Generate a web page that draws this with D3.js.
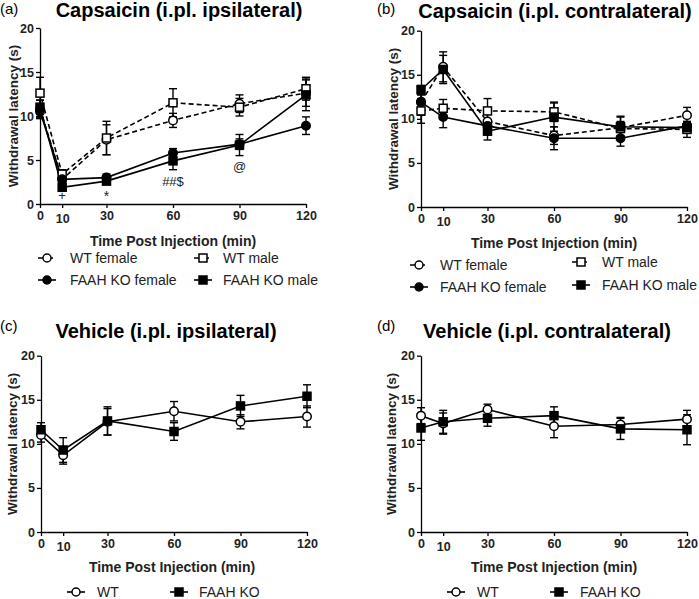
<!DOCTYPE html>
<html><head><meta charset="utf-8">
<script src="https://cdn.jsdelivr.net/npm/d3@7"></script>
<style>
html,body{margin:0;padding:0;background:#fff;}
svg{display:block;font-family:"Liberation Sans",Arial,Helvetica,sans-serif;}
</style></head>
<body>
<svg id="chart" width="699" height="599"></svg>
<script>
// ---------- DATA ----------
const times = [0, 10, 30, 60, 90, 120];
const xTickLabels = ["0", "10", "30", "60", "90", "120"];
const yTicks = [0, 5, 10, 15, 20];

const panelTitles = ["Capsaicin (i.pl. ipsilateral)", "Capsaicin (i.pl. contralateral)",
                     "Vehicle (i.pl. ipsilateral)", "Vehicle (i.pl. contralateral)"];
const panelLetters = ["(a)", "(b)", "(c)", "(d)"];
const xAxisTitle = "Time Post Injection (min)";
const yAxisTitle = "Withdrawal latency (s)";

const seriesNames4 = ["WT female", "WT male", "FAAH KO female", "FAAH KO male"];
const seriesNames2 = ["WT", "FAAH KO"];

// Capsaicin ipsilateral
const ipsiWTFemale = [10.8, 2.8, 7.3, 9.5, 11.4, 12.6];
const ipsiWTFemaleErr = [1.0, 0.5, 1.7, 0.8, 1.0, 1.5];
const ipsiWTMale = [12.6, 3.4, 7.5, 11.5, 11.0, 13.1];
const ipsiWTMaleErr = [1.8, 0.5, 1.9, 1.6, 1.0, 1.3];
const ipsiKOFemale = [10.5, 2.8, 3.0, 5.8, 6.8, 8.9];
const ipsiKOFemaleErr = [0.8, 0.3, 0.4, 0.5, 0.6, 1.0];
const ipsiKOMale = [11.0, 1.9, 2.6, 4.9, 6.7, 12.4];
const ipsiKOMaleErr = [0.8, 0.3, 0.3, 1.0, 1.2, 1.8];

// Capsaicin contralateral
const contraWTFemale = [11.9, 15.9, 9.7, 8.1, 9.0, 10.4];
const contraWTFemaleErr = [1.5, 1.7, 1.2, 1.0, 1.2, 0.9];
const contraWTMale = [10.9, 11.2, 10.9, 10.8, 8.9, 8.8];
const contraWTMaleErr = [1.4, 1.0, 1.4, 1.1, 0.8, 0.9];
const contraKOFemale = [11.9, 10.2, 9.2, 7.8, 7.8, 9.2];
const contraKOFemaleErr = [0.8, 1.2, 0.7, 1.3, 0.9, 0.5];
const contraKOMale = [13.3, 15.6, 8.6, 10.2, 9.1, 9.0];
const contraKOMaleErr = [0.5, 1.6, 1.0, 1.6, 1.2, 0.6];

// Vehicle ipsilateral
const vehIpsiWT = [11.0, 8.7, 12.5, 13.7, 12.5, 13.1];
const vehIpsiWTErr = [0.8, 1.0, 1.5, 1.1, 0.8, 1.2];
const vehIpsiKO = [11.6, 9.3, 12.6, 11.4, 14.3, 15.4];
const vehIpsiKOErr = [0.8, 1.4, 1.6, 1.0, 1.2, 1.3];

// Vehicle contralateral
const vehContraWT = [13.2, 12.3, 13.9, 12.0, 12.2, 12.8];
const vehContraWTErr = [0.9, 1.2, 0.6, 1.3, 0.8, 1.0];
const vehContraKO = [11.8, 12.5, 12.9, 13.2, 11.7, 11.6];
const vehContraKOErr = [1.4, 1.3, 0.9, 1.0, 1.2, 1.7];

// significance annotations in panel (a): time, value (baseline), text
const annotTimes = [10, 30, 60, 90];
const annotValues = [0.45, 0.3, 2.0, 3.75];
const annotTexts = ["+", "*", "##$", "@"];

// ---------- STYLES ----------
const styles = {
  wtF: {marker: "circle", fill: "#fff", dash: "5,3"},
  wtM: {marker: "square", fill: "#fff", dash: "5,3"},
  koF: {marker: "circle", fill: "#000", dash: null},
  koM: {marker: "square", fill: "#000", dash: null},
};

const panels = [
  {letter: 0, title: 0, x0: 40, x1: 306, yTop: 28, yBot: 204, titleX: 179, titleY: 17, letterX: 0, letterY: 14,
   yTitleX: 13, xTitleX: 173, xTitleY: 246,
   series: [
     {name: seriesNames4[0], v: ipsiWTFemale, e: ipsiWTFemaleErr, s: styles.wtF},
     {name: seriesNames4[1], v: ipsiWTMale, e: ipsiWTMaleErr, s: styles.wtM},
     {name: seriesNames4[2], v: ipsiKOFemale, e: ipsiKOFemaleErr, s: styles.koF},
     {name: seriesNames4[3], v: ipsiKOMale, e: ipsiKOMaleErr, s: styles.koM}],
   legend: [{sx: 47, tx: 70, y: 258}, {sx: 203, tx: 223, y: 258}, {sx: 47, tx: 70, y: 280}, {sx: 203, tx: 223, y: 280}],
   annot: true},
  {letter: 1, title: 1, x0: 421, x1: 687, yTop: 30.7, yBot: 207, titleX: 555, titleY: 18, letterX: 377, letterY: 14,
   yTitleX: 393, xTitleX: 554, xTitleY: 248,
   series: [
     {name: seriesNames4[0], v: contraWTFemale, e: contraWTFemaleErr, s: styles.wtF},
     {name: seriesNames4[1], v: contraWTMale, e: contraWTMaleErr, s: styles.wtM},
     {name: seriesNames4[2], v: contraKOFemale, e: contraKOFemaleErr, s: styles.koF},
     {name: seriesNames4[3], v: contraKOMale, e: contraKOMaleErr, s: styles.koM}],
   legend: [{sx: 419, tx: 440, y: 265}, {sx: 581, tx: 602, y: 262}, {sx: 419, tx: 440, y: 287}, {sx: 581, tx: 602, y: 285}]},
  {letter: 2, title: 2, x0: 41, x1: 307, yTop: 355.7, yBot: 532, titleX: 166, titleY: 338, letterX: 0, letterY: 331,
   yTitleX: 12, xTitleX: 172, xTitleY: 572,
   series: [
     {name: seriesNames2[0], v: vehIpsiWT, e: vehIpsiWTErr, s: {marker: "circle", fill: "#fff", dash: null}},
     {name: seriesNames2[1], v: vehIpsiKO, e: vehIpsiKOErr, s: styles.koM}],
   legend: [{sx: 76, tx: 97, y: 592}, {sx: 179, tx: 199, y: 592}]},
  {letter: 3, title: 3, x0: 421, x1: 687, yTop: 355.7, yBot: 532, titleX: 547, titleY: 338, letterX: 377, letterY: 331,
   yTitleX: 391, xTitleX: 554, xTitleY: 572,
   series: [
     {name: seriesNames2[0], v: vehContraWT, e: vehContraWTErr, s: {marker: "circle", fill: "#fff", dash: null}},
     {name: seriesNames2[1], v: vehContraKO, e: vehContraKOErr, s: styles.koM}],
   legend: [{sx: 456, tx: 477, y: 592}, {sx: 559, tx: 580, y: 592}]},
];

const svg = d3.select("#chart");
const LW = 1.6;

function drawMarker(g, type, cx, cy, fill, size) {
  if (type === "circle") {
    g.append("circle").attr("cx", cx).attr("cy", cy).attr("r", size / 2)
      .attr("fill", fill).attr("stroke", "#000").attr("stroke-width", 1.5);
  } else {
    g.append("rect").attr("x", cx - size / 2).attr("y", cy - size / 2)
      .attr("width", size).attr("height", size)
      .attr("fill", fill).attr("stroke", "#000").attr("stroke-width", 1.5);
  }
}

panels.forEach(p => {
  const x = d3.scaleLinear().domain([0, 120]).range([p.x0, p.x1]);
  const y = d3.scaleLinear().domain([0, 20]).range([p.yBot, p.yTop]);
  const g = svg.append("g");

  // letter & title
  g.append("text").attr("x", p.letterX).attr("y", p.letterY).attr("font-size", 15)
    .text(panelLetters[p.letter]);
  g.append("text").attr("x", p.titleX).attr("y", p.titleY).attr("text-anchor", "middle")
    .attr("font-size", 20).attr("font-weight", "bold").text(panelTitles[p.title]);

  // axes
  const yAxis = d3.axisLeft(y).tickValues(yTicks).tickSize(4).tickPadding(2).tickSizeOuter(0);
  const ya = g.append("g").attr("transform", `translate(${p.x0},0)`).call(yAxis);
  const xAxis = d3.axisBottom(x).tickValues(times).tickFormat((d, i) => xTickLabels[i])
    .tickSize(4).tickPadding(3).tickSizeOuter(0);
  const xa = g.append("g").attr("transform", `translate(0,${p.yBot})`).call(xAxis);
  [ya, xa].forEach(a => {
    a.selectAll("path.domain").attr("stroke", "#000").attr("stroke-width", 1.3);
    a.selectAll(".tick line").attr("stroke", "#000").attr("stroke-width", 1.3);
    a.selectAll("text").attr("font-size", 12.5).attr("font-weight", "bold")
      .attr("font-family", '"Liberation Sans",Arial,sans-serif').attr("fill", "#222");
  });
  xa.selectAll(".tick text").filter(d => d === 10).attr("dy", "0.95em");

  // axis titles
  g.append("text").attr("transform", `translate(${p.yTitleX},${(p.yTop + p.yBot) / 2}) rotate(-90)`)
    .attr("text-anchor", "middle").attr("dy", "0.35em").attr("font-size", 13.5).attr("font-weight", "bold")
    .attr("fill", "#222").text(yAxisTitle);
  g.append("text").attr("x", p.xTitleX).attr("y", p.xTitleY).attr("text-anchor", "middle")
    .attr("font-size", 14).attr("font-weight", "bold").attr("fill", "#222").text(xAxisTitle);

  // error bars & lines
  const line = d3.line().x((d, i) => x(times[i])).y(d => y(d));
  p.series.forEach(s => {
    const eg = g.append("g").attr("stroke", "#000").attr("stroke-width", 1.4);
    s.v.forEach((v, i) => {
      const cx = x(times[i]);
      const lo = y(v - s.e[i]), hi = y(v + s.e[i]);
      eg.append("line").attr("x1", cx).attr("x2", cx).attr("y1", lo).attr("y2", hi);
      eg.append("line").attr("x1", cx - 4).attr("x2", cx + 4).attr("y1", lo).attr("y2", lo);
      eg.append("line").attr("x1", cx - 4).attr("x2", cx + 4).attr("y1", hi).attr("y2", hi);
    });
  });
  p.series.forEach(s => {
    g.append("path").datum(s.v).attr("d", line).attr("fill", "none").attr("stroke", "#000")
      .attr("stroke-width", LW).attr("stroke-dasharray", s.s.dash);
  });
  // markers
  p.series.forEach(s => {
    s.v.forEach((v, i) => drawMarker(g, s.s.marker, x(times[i]), y(v), s.s.fill, s.s.marker === "circle" ? 8.5 : 8));
  });

  // annotations
  if (p.annot) {
    annotTexts.forEach((t, i) => {
      g.append("text").attr("x", x(annotTimes[i])).attr("y", y(annotValues[i]))
        .attr("text-anchor", "middle").attr("font-size", t === "*" ? 14 : 13).attr("fill", "#222").text(t);
    });
  }

  // legend
  p.series.forEach((s, i) => {
    const L = p.legend[i];
    const lg = g.append("g");
    lg.append("line").attr("x1", L.sx - 9).attr("x2", L.sx + 9).attr("y1", L.y).attr("y2", L.y)
      .attr("stroke", "#000").attr("stroke-width", LW).attr("stroke-dasharray", s.s.dash ? "6,3" : null);
    drawMarker(lg, s.s.marker, L.sx, L.y, s.s.fill, 8);
    lg.append("text").attr("x", L.tx).attr("y", L.y).attr("dy", "0.35em").attr("font-size", 14)
      .attr("fill", "#222").text(s.name);
  });
});
</script>
</body></html>
